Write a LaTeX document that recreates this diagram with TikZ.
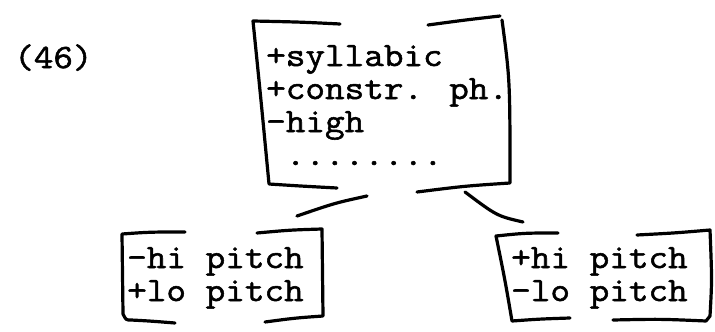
\documentclass[tikz,border=0pt]{standalone}
\usepackage{fontspec}
% wide typewriter face: pica pitch of 20pt per character
\newfontfamily\tw[FakeStretch=1.12,FakeBold=1.6]{Latin Modern Mono}

\begin{document}
\begin{tikzpicture}[x=1pt,y=-1pt,
  feat/.style={anchor=base west, inner sep=0pt, font=\tw\fontsize{34}{36}\selectfont},
  pen/.style={line width=3.2pt, line cap=round, line join=round}]
\useasboundingbox (0,0) rectangle (715,332);

% example number
\node[feat] (num) at (14,68) {(46)};

% feature matrix of the parent segment
\node[feat] (p1) at (266,66)  {+syllabic};
\node[feat] (p2) at (266,99)  {+constr. ph.};
\node[feat] (p3) at (266,132) {-high};
\node[feat] (p4) at (266,165) {\ ........};

% its brackets
\draw[pen] (340,24) .. controls (300,22) .. (253,21)
           .. controls (261,100) .. (269,184)
           .. controls (300,186) .. (337,188);
\draw[pen] (428,25) .. controls (465,20) .. (500,16);
\draw[pen] (502,20) .. controls (510,80) .. (510,183)
           .. controls (465,186) .. (417,192);

% left daughter
\node[feat] (l1) at (127,268) {-hi pitch};
\node[feat] (l2) at (127,301) {+lo pitch};
\draw[pen] (185,232) .. controls (150,232) .. (122,234)
           -- (123,314) .. controls (126,320) .. (131,320)
           .. controls (150,321) .. (175,323);
\draw[pen] (257,233) .. controls (290,230) .. (322,229)
           -- (323,316) .. controls (295,318) .. (265,322);

% right daughter
\node[feat] (r1) at (511,268) {+hi pitch};
\node[feat] (r2) at (511,301) {-lo pitch};
\draw[pen] (558,233) .. controls (525,233) .. (496,236)
           .. controls (505,280) .. (512,321)
           .. controls (540,319) .. (570,318);
\draw[pen] (637,235) .. controls (675,233) .. (710,230)
           .. controls (712,280) .. (710,316) -- (706,321)
           .. controls (660,319) .. (613,320);

% branches
\coordinate (bl-top) at (367,196);
\coordinate (bl-end) at (297,216);
\coordinate (br-top) at (465,192);
\coordinate (br-end) at (523,222);
\draw[pen] (bl-top) .. controls (335,203) .. (bl-end);
\draw[pen] (br-top) .. controls (497,216) .. (br-end);
\end{tikzpicture}
\end{document}
